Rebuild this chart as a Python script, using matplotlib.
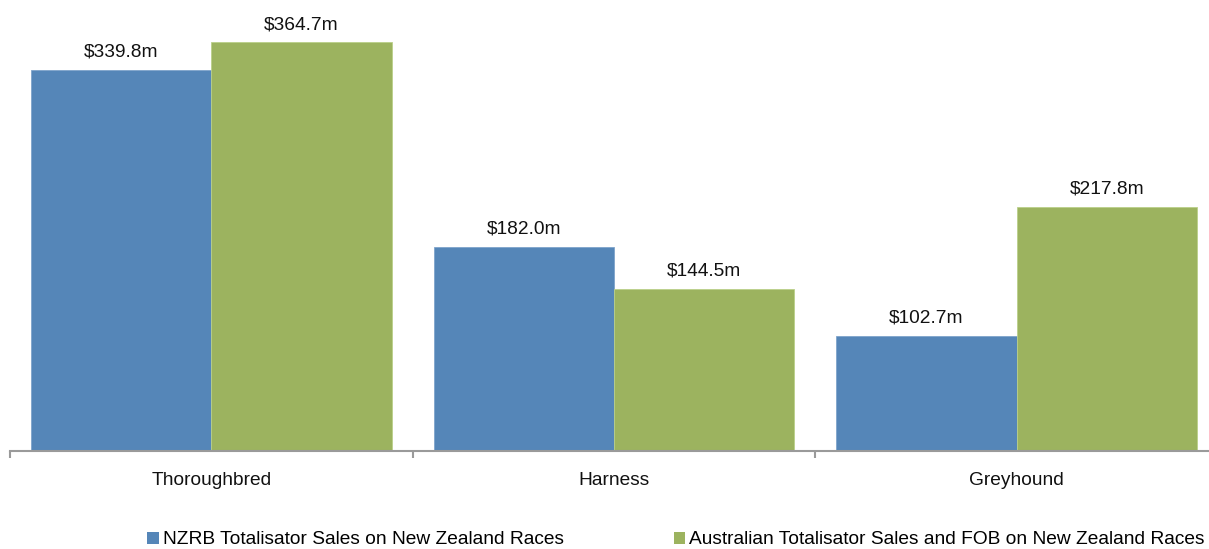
import matplotlib.pyplot as plt
import numpy as np
from matplotlib.patches import Patch

plt.rcParams['font.family'] = ['Liberation Sans', 'DejaVu Sans']

categories = ['Thoroughbred', 'Harness', 'Greyhound']
nzrb_sales = [339.8, 182.0, 102.7]
aus_sales = [364.7, 144.5, 217.8]
series_names = ['NZRB Totalisator Sales on New Zealand Races',
                'Australian Totalisator Sales and FOB on New Zealand Races']

BLUE = '#5586B8'
GREEN = '#9CB35F'
AXIS_GREY = '#9A9A9A'
FS = 13.8

W, H = 1209, 549
fig = plt.figure(figsize=(W / 100, H / 100), dpi=100)

# axes spans one category width per group; right edge runs past the canvas
left_px, right_px, base_px, top_px = 10, 1218, 451, 2.5
ax = fig.add_axes([left_px / W, 1 - base_px / H,
                   (right_px - left_px) / W, (base_px - top_px) / H])

x = np.arange(len(categories))
bw = 0.448
b1 = ax.bar(x - bw / 2, nzrb_sales, bw, color=BLUE, edgecolor='#7FA3CB', linewidth=0.6)
b2 = ax.bar(x + bw / 2, aus_sales, bw, color=GREEN, edgecolor='#BBD08A', linewidth=0.6)

for bars, vals in ((b1, nzrb_sales), (b2, aus_sales)):
    for rect, v in zip(bars, vals):
        ax.annotate(f'${v:.1f}m', (rect.get_x() + rect.get_width() / 2, v),
                    xytext=(0, 6.5), textcoords='offset points',
                    ha='center', va='bottom', fontsize=FS, color='#111111')

ax.set_xlim(-0.5, len(categories) - 0.5)
ax.set_ylim(0, 400)

for s in ('top', 'right', 'left'):
    ax.spines[s].set_visible(False)
ax.spines['bottom'].set_color(AXIS_GREY)
ax.spines['bottom'].set_linewidth(1.5)

ax.set_yticks([])
ax.set_xticks(x)
ax.set_xticklabels(categories, fontsize=FS, color='#111111')
ax.set_xticks(np.arange(-0.5, len(categories)), minor=True)
ax.tick_params(axis='x', which='major', length=0, pad=15)
ax.tick_params(axis='x', which='minor', length=5, width=1.5, color=AXIS_GREY)

handles = [Patch(facecolor=BLUE, edgecolor='none'),
           Patch(facecolor=GREEN, edgecolor='none')]
fig.legend(handles, series_names, loc='center', ncol=2,
           bbox_to_anchor=(676 / W, 1 - 540 / H), frameon=False,
           fontsize=FS, handlelength=0.6, handleheight=0.6,
           handletextpad=0.2, columnspacing=5.75, borderpad=0)

fig.savefig('out.png', dpi=100)
